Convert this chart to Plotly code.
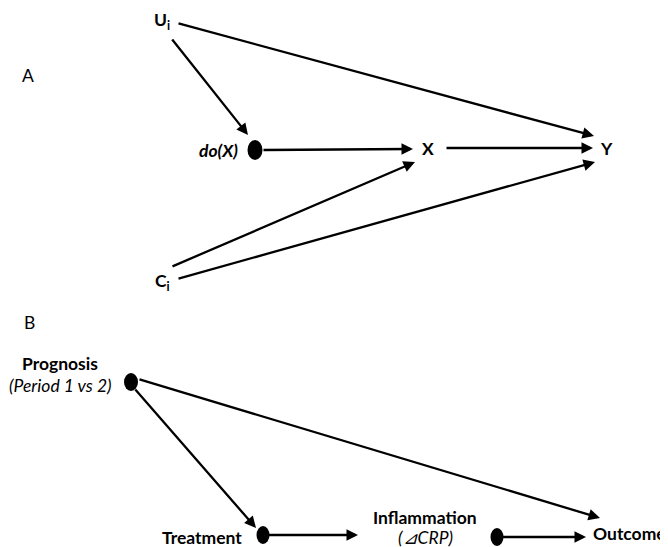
import plotly.graph_objects as go

# ---- data: nodes and edges of the two causal diagrams ----
panel_labels = ["A", "B"]
node_names = ["U", "doX", "X", "Y", "C", "Prognosis", "Treatment", "Inflammation", "Outcome"]
node_texts = ["<b>U<sub>i</sub></b>", "<b><i>do(X)</i></b>", "<b>X</b>", "<b>Y</b>", "<b>C<sub>i</sub></b>",
              "<b>Prognosis</b>", "<b>Treatment</b>", "<b>Inflammation</b>", "<b>Outcome</b>"]
node_subtexts = ["", "", "", "", "", "<i>(Period 1 vs 2)</i>", "", "<i>(⊿CRP)</i>", ""]
edges_from = ["U", "U", "doX", "X", "C", "C", "Prognosis", "Prognosis", "Treatment", "Inflammation"]
edges_to = ["Y", "doX", "X", "Y", "X", "Y", "Outcome", "Treatment", "Inflammation", "Outcome"]
intervention_nodes = ["doX", "Prognosis", "Treatment", "Inflammation"]

# ---- layout (pixel positions in the page) ----
W, H = 668, 547
OFF = 8  # page body margin
label_pos = {"U": (162, 21, "center"), "doX": (218, 150, "center"), "X": (428, 148, "center"),
             "Y": (606, 148, "center"), "C": (162, 282, "center"), "Prognosis": (60, 363, "center"),
             "Treatment": (202, 537, "center"), "Inflammation": (425, 517, "center"),
             "Outcome": (591, 533, "left")}
sub_offset = {"Prognosis": 22, "Inflammation": 20}
panel_pos = {"A": (28, 75), "B": (29, 322)}
dot_pos = {"doX": (255, 150, 15, 20), "Prognosis": (131, 382, 14, 18),
           "Treatment": (263, 535, 13, 18), "Inflammation": (497, 537, 13, 18)}
edge_ports = {("U", "Y"): ((177, 23), (594, 136)), ("U", "doX"): ((171, 38), (248, 135)),
              ("doX", "X"): ((262, 150), (413, 149)), ("X", "Y"): ((445, 148), (593, 148)),
              ("C", "X"): ((171, 267), (415, 162)), ("C", "Y"): ((177, 279), (595, 162)),
              ("Prognosis", "Outcome"): ((138, 379), (600, 518)),
              ("Prognosis", "Treatment"): ((134, 388), (256, 528)),
              ("Treatment", "Inflammation"): ((263, 535), (358, 535)),
              ("Inflammation", "Outcome"): ((497, 537), (586, 537))}

FONT = "Lato"
FS = 17.5
fig = go.Figure()
fig.add_trace(go.Scatter(x=[OFF, W], y=[OFF, H], mode="markers", marker=dict(opacity=0),
                         hoverinfo="skip", showlegend=False))

annotations = []
for a, b in zip(edges_from, edges_to):
    (x0, y0), (x1, y1) = edge_ports[(a, b)]
    annotations.append(dict(x=x1, y=y1, ax=x0, ay=y0, xref="x", yref="y", axref="x", ayref="y",
                            showarrow=True, arrowhead=2, arrowsize=1.0, arrowwidth=2.3,
                            arrowcolor="black", text=""))
for name, txt, sub in zip(node_names, node_texts, node_subtexts):
    x, y, anchor = label_pos[name]
    annotations.append(dict(x=x, y=y, xref="x", yref="y", text=txt, showarrow=False,
                            xanchor=anchor, yanchor="middle", align="center",
                            font=dict(family=FONT, size=FS, color="black")))
    if sub:
        annotations.append(dict(x=x, y=y + sub_offset[name], xref="x", yref="y", text=sub,
                                showarrow=False, xanchor=anchor, yanchor="middle",
                                font=dict(family=FONT, size=FS, color="black")))
for p in panel_labels:
    x, y = panel_pos[p]
    annotations.append(dict(x=x, y=y, xref="x", yref="y", text=p, showarrow=False,
                            font=dict(family=FONT, size=FS, color="black")))

shapes = []
for n in intervention_nodes:
    cx, cy, w, h = dot_pos[n]
    shapes.append(dict(type="circle", xref="x", yref="y", x0=cx - w / 2, x1=cx + w / 2,
                       y0=cy - h / 2, y1=cy + h / 2, fillcolor="black", line=dict(width=0)))

fig.update_layout(width=W, height=H, margin=dict(l=0, r=0, t=0, b=0),
                  paper_bgcolor="white", plot_bgcolor="white",
                  xaxis=dict(range=[OFF, W + OFF], visible=False, fixedrange=True),
                  yaxis=dict(range=[H + OFF, OFF], visible=False, fixedrange=True),
                  annotations=annotations, shapes=shapes, showlegend=False)
fig.write_html("out.html")
